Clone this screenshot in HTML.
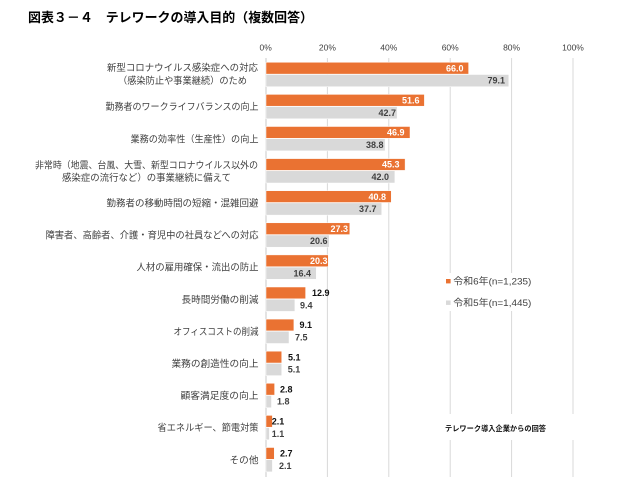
<!DOCTYPE html>
<html><head><meta charset="utf-8">
<style>
html,body{margin:0;padding:0;background:#fff;}
svg{display:block;}
.cat{font-family:"Liberation Sans","Noto Sans CJK JP",sans-serif;font-size:9.5px;fill:#404040;}
.tick{font-family:"Liberation Sans",sans-serif;font-size:8.5px;fill:#404040;}
.v{font-family:"Liberation Sans",sans-serif;font-size:9px;font-weight:bold;}
.w{fill:#fff;}
.g{fill:#404040;}
.b{fill:#111;}
</style></head>
<body>
<svg width="631" height="502" viewBox="0 0 631 502" xmlns="http://www.w3.org/2000/svg">
<rect width="631" height="502" fill="#fff"/>
<text x="28" y="22" textLength="285" lengthAdjust="spacingAndGlyphs" style="font-family:'Liberation Sans','Noto Sans CJK JP',sans-serif;font-size:13px;font-weight:bold;fill:#000;">図表３－４　テレワークの導入目的（複数回答）</text>

<!-- gridlines -->
<g stroke="#d9d9d9" stroke-width="1">
<line x1="327.4" y1="58" x2="327.4" y2="477"/>
<line x1="388.8" y1="58" x2="388.8" y2="477"/>
<line x1="450.2" y1="58" x2="450.2" y2="477"/>
<line x1="511.6" y1="58" x2="511.6" y2="477"/>
<line x1="573" y1="58" x2="573" y2="477"/>
</g>
<line x1="266" y1="58" x2="266" y2="477" stroke="#c8c8c8" stroke-width="1"/>

<!-- ticks -->
<g class="tick" text-anchor="middle">
<text x="265.7" y="50.5">0%</text>
<text x="327.4" y="50.5">20%</text>
<text x="388.8" y="50.5">40%</text>
<text x="450.2" y="50.5">60%</text>
<text x="511.6" y="50.5">80%</text>
<text x="573" y="50.5">100%</text>
</g>

<!-- bars -->
<g fill="#EA7232" stroke="#fff" stroke-width="0.5">
<rect x="266" y="62.3" width="202.6" height="11.8"/>
<rect x="266" y="94.4" width="158.4" height="11.8"/>
<rect x="266" y="126.5" width="144.0" height="11.8"/>
<rect x="266" y="158.6" width="139.1" height="11.8"/>
<rect x="266" y="190.7" width="125.3" height="11.8"/>
<rect x="266" y="222.8" width="83.8" height="11.8"/>
<rect x="266" y="254.9" width="62.3" height="11.8"/>
<rect x="266" y="287.0" width="39.6" height="11.8"/>
<rect x="266" y="319.1" width="27.9" height="11.8"/>
<rect x="266" y="351.2" width="15.7" height="11.8"/>
<rect x="266" y="383.3" width="8.6" height="11.8"/>
<rect x="266" y="415.4" width="6.4" height="11.8"/>
<rect x="266" y="447.5" width="8.3" height="11.8"/>
</g>
<g fill="#D9D9D9" stroke="#fff" stroke-width="0.5">
<rect x="266" y="74.5" width="242.8" height="12.2"/>
<rect x="266" y="106.6" width="131.1" height="12.2"/>
<rect x="266" y="138.7" width="119.1" height="12.2"/>
<rect x="266" y="170.8" width="128.9" height="12.2"/>
<rect x="266" y="202.9" width="115.7" height="12.2"/>
<rect x="266" y="235.0" width="63.2" height="12.2"/>
<rect x="266" y="267.1" width="50.3" height="12.2"/>
<rect x="266" y="299.2" width="28.9" height="12.2"/>
<rect x="266" y="331.3" width="23.0" height="12.2"/>
<rect x="266" y="363.4" width="15.7" height="12.2"/>
<rect x="266" y="395.5" width="5.5" height="12.2"/>
<rect x="266" y="427.6" width="3.4" height="12.2"/>
<rect x="266" y="459.7" width="6.4" height="12.2"/>
</g>

<!-- value labels orange inside -->
<g class="v w" text-anchor="end">
<text x="463.5" y="71.4">66.0</text>
<text x="419.5" y="103.5">51.6</text>
<text x="404.5" y="135.6">46.9</text>
<text x="399.5" y="167.7">45.3</text>
<text x="386" y="199.8">40.8</text>
<text x="348" y="231.9">27.3</text>
<text x="327.5" y="264.0">20.3</text>
</g>
<!-- gray inside -->
<g class="v g" text-anchor="end">
<text x="505" y="83.7">79.1</text>
<text x="396" y="115.8">42.7</text>
<text x="383.5" y="147.9">38.8</text>
<text x="389" y="180.0">42.0</text>
<text x="376.5" y="212.1">37.7</text>
<text x="327.5" y="244.2">20.6</text>
<text x="311" y="276.3">16.4</text>
</g>
<!-- orange outside -->
<g class="v b">
<text x="312" y="296.1">12.9</text>
<text x="299.5" y="328.2">9.1</text>
<text x="288" y="360.3">5.1</text>
<text x="280" y="392.4">2.8</text>
<text x="271.7" y="424.5">2.1</text>
<text x="280" y="456.6">2.7</text>
</g>
<!-- gray outside -->
<g class="v g">
<text x="300" y="308.4">9.4</text>
<text x="295" y="340.5">7.5</text>
<text x="287.7" y="372.6">5.1</text>
<text x="277" y="404.7">1.8</text>
<text x="271.7" y="436.8">1.1</text>
<text x="279" y="468.9">2.1</text>
</g>

<!-- category labels -->
<g class="cat">
<text x="182.5" y="71" text-anchor="middle" textLength="151" lengthAdjust="spacingAndGlyphs">新型コロナウイルス感染症への対応</text>
<text x="182.5" y="84" text-anchor="middle" textLength="129" lengthAdjust="spacingAndGlyphs">（感染防止や事業継続）のため</text>
<text x="258.5" y="110.2" text-anchor="end" textLength="153" lengthAdjust="spacingAndGlyphs">勤務者のワークライフバランスの向上</text>
<text x="258.5" y="142.3" text-anchor="end" textLength="128" lengthAdjust="spacingAndGlyphs">業務の効率性（生産性）の向上</text>
<text x="146.5" y="168.5" text-anchor="middle" textLength="223" lengthAdjust="spacingAndGlyphs">非常時（地震、台風、大雪、新型コロナウイルス以外の</text>
<text x="146.5" y="181.2" text-anchor="middle" textLength="169" lengthAdjust="spacingAndGlyphs">感染症の流行など）の事業継続に備えて</text>
<text x="258.5" y="206.5" text-anchor="end" textLength="152" lengthAdjust="spacingAndGlyphs">勤務者の移動時間の短縮・混雑回避</text>
<text x="258.5" y="238.6" text-anchor="end" textLength="213" lengthAdjust="spacingAndGlyphs">障害者、高齢者、介護・育児中の社員などへの対応</text>
<text x="258.5" y="270.7" text-anchor="end" textLength="122" lengthAdjust="spacingAndGlyphs">人材の雇用確保・流出の防止</text>
<text x="258.5" y="302.8" text-anchor="end" textLength="77" lengthAdjust="spacingAndGlyphs">長時間労働の削減</text>
<text x="258.5" y="334.9" text-anchor="end" textLength="85" lengthAdjust="spacingAndGlyphs">オフィスコストの削減</text>
<text x="258.5" y="367.0" text-anchor="end" textLength="87" lengthAdjust="spacingAndGlyphs">業務の創造性の向上</text>
<text x="258.5" y="399.1" text-anchor="end" textLength="78" lengthAdjust="spacingAndGlyphs">顧客満足度の向上</text>
<text x="258.5" y="431.2" text-anchor="end" textLength="101" lengthAdjust="spacingAndGlyphs">省エネルギー、節電対策</text>
<text x="258.5" y="463.3" text-anchor="end" textLength="29" lengthAdjust="spacingAndGlyphs">その他</text>
</g>

<!-- legend -->
<rect x="442" y="273" width="98" height="38" fill="#fff"/>
<rect x="446" y="279" width="4.6" height="4.4" fill="#EA7232"/>
<text x="453.3" y="284.6" class="cat" textLength="78" lengthAdjust="spacingAndGlyphs">令和6年(n=1,235)</text>
<rect x="446" y="300.5" width="4.6" height="4.4" fill="#D9D9D9"/>
<text x="453.3" y="306.2" class="cat" textLength="78" lengthAdjust="spacingAndGlyphs">令和5年(n=1,445)</text>

<!-- note -->
<rect x="440" y="414" width="140" height="26" fill="#fff"/>
<text x="445" y="431" textLength="101" lengthAdjust="spacingAndGlyphs" style="font-family:'Liberation Sans','Noto Sans CJK JP',sans-serif;font-size:7.5px;font-weight:bold;fill:#111;">テレワーク導入企業からの回答</text>
</svg>
</body></html>
